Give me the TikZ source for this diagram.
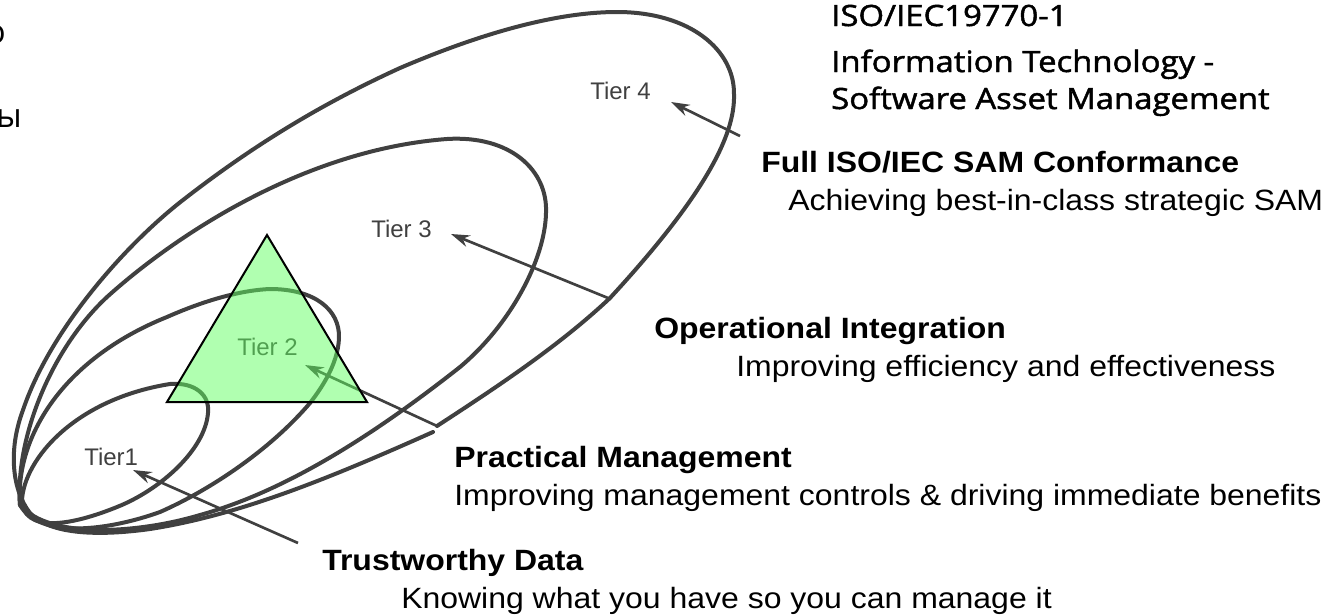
\documentclass[tikz,border=0pt]{standalone}
\usepackage{fontspec}
\setmainfont{Liberation Sans}
\newfontfamily\titlefont{Open Sans}[FakeBold=1.5]
\newfontfamily\cutfont{Open Sans}
\usetikzlibrary{arrows.meta}
\definecolor{ink}{HTML}{404040}
\newcommand{\wid}[1]{\scalebox{1.09}[1]{#1}}
\newcommand{\widtitle}[1]{\scalebox{1.12}[1]{#1}}
\tikzset{
  tiercurve/.style={draw=ink,line width=3pt,line join=round,line cap=round},
  tierlabel/.style={text=ink,font=\fontsize{18}{18}\selectfont,inner sep=0pt,anchor=base west},
  pointer/.style={draw=ink,line width=2pt,-{Stealth[length=14pt,width=9pt]}},
  head/.style={font=\fontsize{22}{24}\selectfont\bfseries,anchor=base west,inner sep=0pt},
  body/.style={font=\fontsize{22}{24}\selectfont,anchor=base west,inner sep=0pt},
  titletext/.style={font=\titlefont\fontsize{22}{23}\selectfont,anchor=base west,inner sep=0pt}
}
\begin{document}
\begin{tikzpicture}[x=0.75pt,y=-0.75pt]
\useasboundingbox (0,0) rectangle (1324,615);
% tier curves
\draw[tiercurve] (433,432) .. controls (330,478) and (240,515) .. (150,529)
  .. controls (100,536) and (50,535) .. (30,513)
  .. controls (12,490) and (8,450) .. (23,410)
  .. controls (50,330) and (125,245) .. (183,200)
  .. controls (260,140) and (330,100) .. (400,68)
  .. controls (470,38) and (550,12) .. (617,12)
  .. controls (690,12) and (735,50) .. (734,95)
  .. controls (735,135) and (705,195) .. (610,298)
  .. controls (560,345) and (500,385) .. (437,426);
\draw[tiercurve] (20,505) .. controls (15,440) and (50,350) .. (107,297)
  .. controls (170,240) and (300,150) .. (447,139)
  .. controls (510,135) and (548,170) .. (546,213)
  .. controls (545,260) and (510,325) .. (460,367)
  .. controls (380,430) and (290,490) .. (200,515)
  .. controls (140,533) and (50,540) .. (20,505);
\draw[tiercurve] (20,505) .. controls (15,440) and (60,360) .. (167,317)
  .. controls (210,298) and (245,290) .. (270,289)
  .. controls (315,289) and (340,310) .. (339,338)
  .. controls (338,365) and (320,390) .. (310,403)
  .. controls (270,450) and (210,490) .. (160,512)
  .. controls (110,530) and (40,540) .. (20,505);
\draw[tiercurve] (22,505) .. controls (20,465) and (70,400) .. (170,384)
  .. controls (195,382) and (210,395) .. (208,413)
  .. controls (205,450) and (160,490) .. (117,507)
  .. controls (80,522) and (30,535) .. (22,505);
% labels
\node[tierlabel] (t1) at (84,465) {Tier1};
\node[tierlabel] (t2) at (237,355) {Tier 2};
\node[tierlabel] (t3) at (371,237) {Tier 3};
\node[tierlabel] (t4) at (590,99) {Tier 4};
% pointers
\coordinate (p1) at (298,543);
\coordinate (q1) at (133,470);
\coordinate (p2) at (437,426);
\coordinate (q2) at (305,365);
\coordinate (p3) at (608,298);
\coordinate (q3) at (451,234);
\coordinate (p4) at (740,136);
\coordinate (q4) at (671,102);
\draw[pointer] (p1) -- (q1);
\draw[pointer] (p2) -- (q2);
\draw[pointer] (p3) -- (q3);
\draw[pointer] (p4) -- (q4);
% triangle
\draw[draw=black,line width=1.5pt,line join=miter,fill={rgb,255:red,97;green,255;blue,97},fill opacity=0.5] (267,235) -- (367,402) -- (167,402) -- cycle;
% text
\node[titletext] (h) at (831,26) {\widtitle{ISO/IEC19770-1}};
\node[titletext] (i) at (831,72) {\widtitle{Information Technology -}};
\node[titletext] (s) at (831,109) {\widtitle{Software Asset Management}};
\node[head] (a) at (761,172) {\wid{Full ISO/IEC SAM Conformance}};
\node[body] (b) at (788,210) {\wid{Achieving best-in-class strategic SAM}};
\node[head] (c) at (654,338) {\wid{Operational Integration}};
\node[body] (d) at (736,376) {\wid{Improving efficiency and effectiveness}};
\node[head] (e) at (454,467) {\wid{Practical Management}};
\node[body] (f) at (454,505) {\wid{Improving management controls \& driving immediate benefits}};
\node[head] (g) at (322,570) {\wid{Trustworthy Data}};
\node[body] (j) at (401,608) {\wid{Knowing what you have so you can manage it}};
\begin{scope}
\clip (0,0) rectangle (40,140);
\node[font=\cutfont\fontsize{25}{25}\selectfont,anchor=base east,inner sep=0pt] (k) at (6,43) {о};
\node[font=\cutfont\fontsize{25}{25}\selectfont,anchor=base east,inner sep=0pt] (l) at (22,127) {ы};
\end{scope}
\end{tikzpicture}
\end{document}
